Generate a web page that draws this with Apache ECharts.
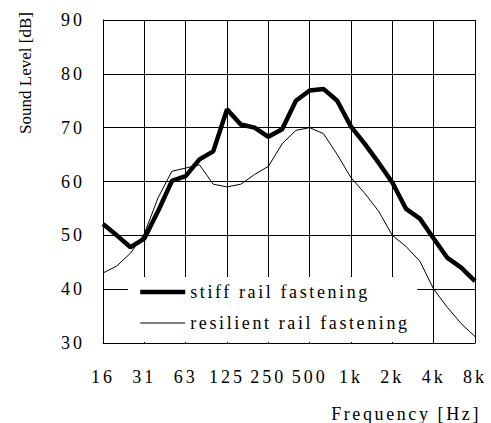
<!DOCTYPE html>
<html><head><meta charset="utf-8">
<script src="https://cdn.jsdelivr.net/npm/echarts@6/dist/echarts.min.js"></script>
<style>
html,body{margin:0;padding:0;background:#fff}
#chart{width:491px;height:423px}
/* widen the serif labels a little */
#chart text[style*="font-size: 18px"]{letter-spacing:3px}
#chart text[style*="font-size: 18.01px"]{letter-spacing:2.6px}
</style>
</head><body><div id="chart"></div>
<script>
// one-third-octave bands from 16 Hz to 8 kHz (index 0..27), octave labels every 3 bands
const tickLabels = ['16', '31', '63', '125', '250', '500', '1k', '2k', '4k', '8k'];
const stiffLevels = [52.1, 50.0, 47.8, 49.4, 54.5, 60.1, 61.0, 64.1, 65.6, 73.4, 70.6, 70.0, 68.3, 69.7,
                     75.0, 76.9, 77.2, 75.0, 70.2, 67.0, 63.5, 59.8, 54.9, 53.1, 49.4, 45.8, 44.0, 41.5];
const resilientLevels = [43.0, 44.3, 46.7, 50.3, 57.0, 61.9, 62.5, 63.1, 59.5, 59.0, 59.5, 61.3, 62.8, 67.0,
                         69.5, 70.0, 68.9, 65.0, 60.7, 57.8, 54.5, 50.0, 47.9, 45.2, 40.0, 36.6, 33.6, 31.2];
const seriesNames = ['stiff rail fastening', 'resilient rail fastening'];

const FONT = 'Liberation Serif, Times New Roman, serif';
const toPairs = arr => arr.map((v, i) => [i, v]);

const chart = echarts.init(document.getElementById('chart'), null, { renderer: 'svg' });
chart.setOption({
  animation: false,
  textStyle: { fontFamily: FONT, color: '#000' },
  grid: { left: 103, right: 16, top: 20, bottom: 75 },
  xAxis: {
    type: 'value', min: 0, max: 27, interval: 3,
    name: 'Frequency [Hz]', nameLocation: 'end', nameGap: 6,
    nameTextStyle: { fontFamily: FONT, fontSize: 18.01, color: '#000', align: 'right', verticalAlign: 'top', padding: [62, 0, 0, 0] },
    axisLine: { lineStyle: { color: '#000', width: 1 } },
    axisTick: { show: true, inside: true, length: 8, lineStyle: { color: '#000' } },
    axisLabel: { fontFamily: FONT, fontSize: 18, color: '#000', margin: 25, formatter: v => tickLabels[Math.round(v / 3)] },
    splitLine: { show: true, lineStyle: { color: '#000', width: 1 } }
  },
  yAxis: {
    type: 'value', min: 30, max: 90, interval: 10,
    axisLine: { show: true, lineStyle: { color: '#000', width: 1 } },
    axisTick: { show: false },
    axisLabel: { fontFamily: FONT, fontSize: 18, color: '#000', margin: 18 },
    splitLine: { show: true, lineStyle: { color: '#000', width: 1 } }
  },
  legend: {
    orient: 'vertical', left: 128, top: 277,
    backgroundColor: '#fff', padding: [6, 70, 10, 10],
    itemWidth: 45, itemHeight: 18, itemGap: 13,
    itemStyle: { opacity: 0 },
    lineStyle: { width: 'inherit' },
    textStyle: { fontFamily: FONT, fontSize: 18.01, color: '#000' },
    data: seriesNames
  },
  graphic: [{
    type: 'text', x: 25, y: 73, rotation: Math.PI / 2,
    style: { text: 'Sound Level [dB]', font: '17px ' + FONT, fill: '#000', align: 'center', verticalAlign: 'middle' }
  }],
  series: [
    { name: seriesNames[0], type: 'line', data: toPairs(stiffLevels), symbol: 'none',
      lineStyle: { color: '#000', width: 4.5 }, itemStyle: { color: '#000' }, z: 3 },
    { name: seriesNames[1], type: 'line', data: toPairs(resilientLevels), symbol: 'none',
      lineStyle: { color: '#000', width: 1 }, itemStyle: { color: '#000' }, z: 2 }
  ]
});
</script></body></html>
